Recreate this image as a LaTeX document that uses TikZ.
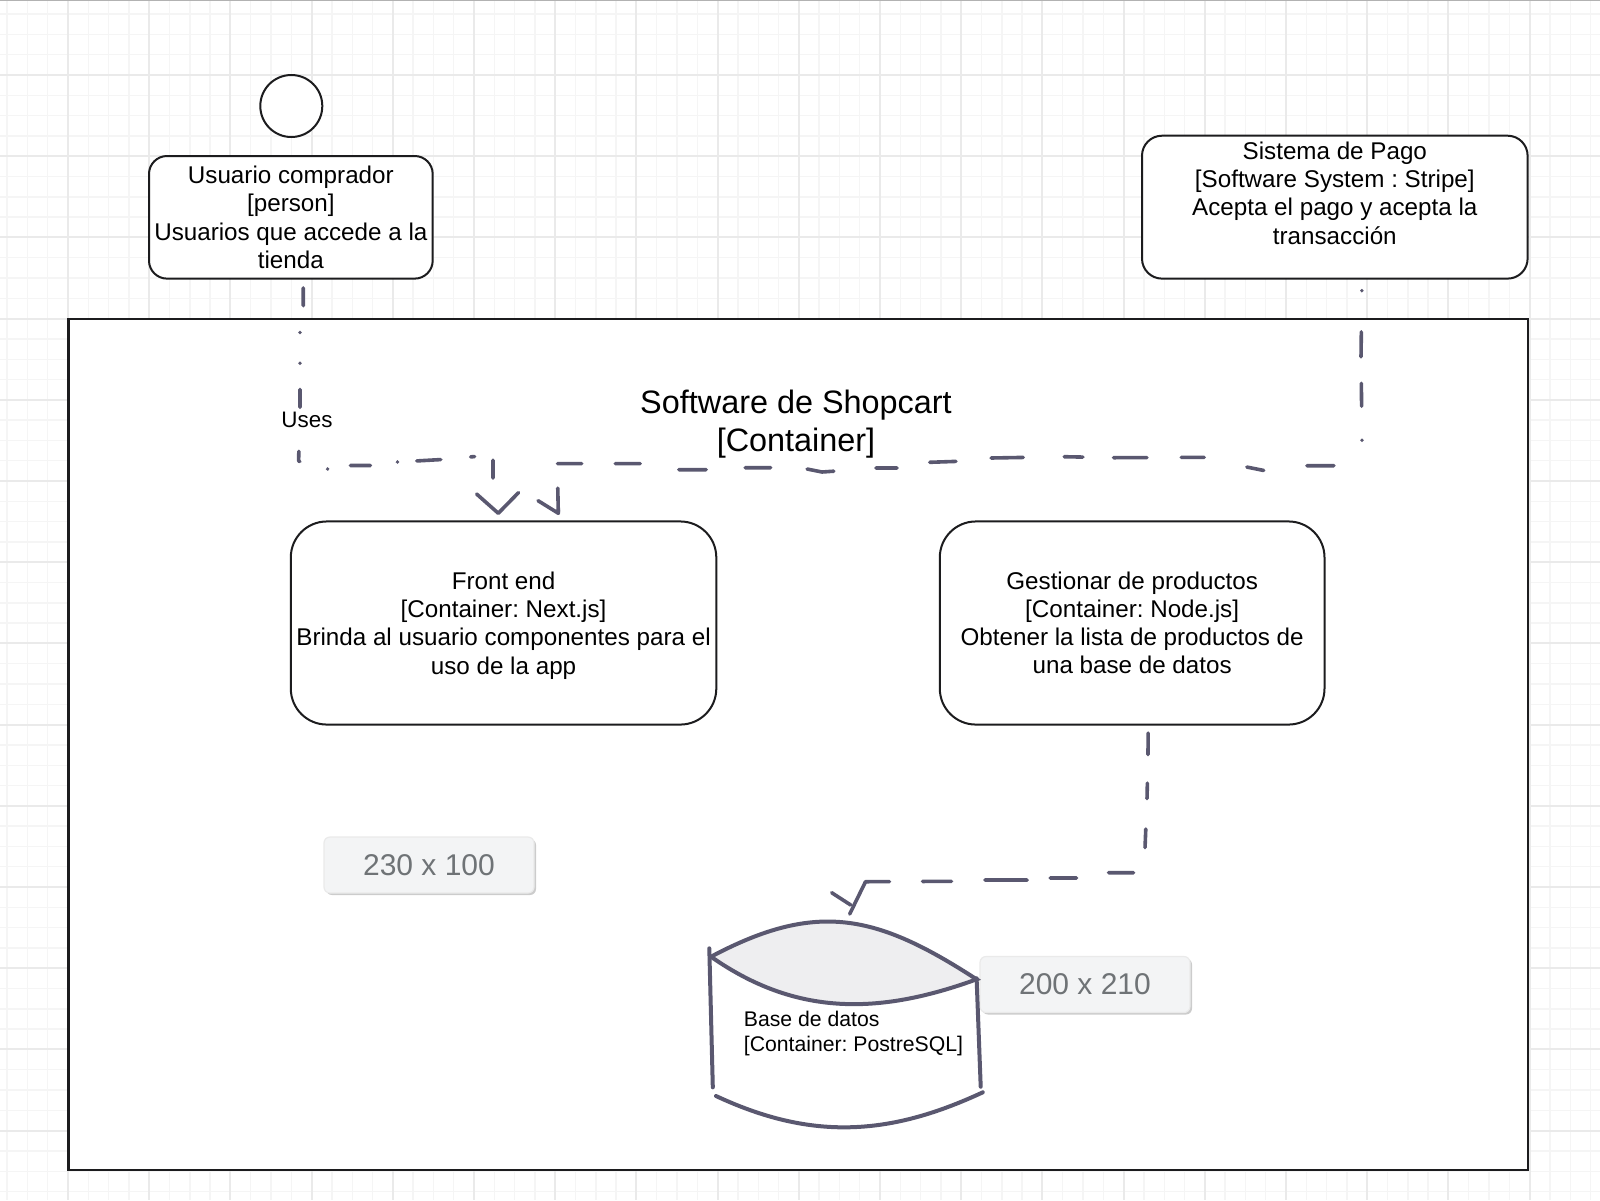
\documentclass[tikz,border=0pt]{standalone}
\usepackage{fontspec}
\setmainfont{Liberation Sans}
\frenchspacing
\usetikzlibrary{arrows.meta,shadows}

\definecolor{flowink}{HTML}{5A5870}
\definecolor{boxink}{HTML}{1C1C1E}
\definecolor{gridmain}{HTML}{EAEAEA}
\definecolor{gridfine}{HTML}{F5F5F5}
\definecolor{capfill}{HTML}{EEEEF0}
\definecolor{badgefill}{HTML}{F3F4F5}
\definecolor{badgeink}{HTML}{6F7376}

\tikzset{
  cardbox/.style={draw=boxink, line width=1pt, fill=white, inner sep=0pt, align=center, font=\fontsize{12.1}{14.1}\selectfont},
  sizebadge/.style={draw=gridmain, line width=.6pt, fill=badgefill, rounded corners=3pt, text=badgeink, inner sep=0pt, minimum width=105pt, minimum height=28pt, font=\fontsize{15}{18}\selectfont, drop shadow={shadow xshift=1pt, shadow yshift=-1pt, opacity=.2, fill=black}},
  flowline/.style={draw=flowink, line width=1.8pt, line cap=round, line join=round},
  dbline/.style={draw=flowink, line width=2pt, line cap=round},
}

\begin{document}
\begin{tikzpicture}[x=.5pt, y=-.5pt]

\useasboundingbox (0,0) rectangle (1600,1200) ;

\fill [white] (0,0) rectangle (1600,1200) ;
\foreach \k in {0,...,83} {
  \draw [gridfine, line width=.7pt] ({-13.2+20.3*\k},0) to ({-13.2+20.3*\k},1200) ;
}
\foreach \k in {0,...,62} {
  \draw [gridfine, line width=.7pt] (0,{-6.2+20.3*\k}) to (1600,{-6.2+20.3*\k}) ;
}
\foreach \k in {-1,...,19} {
  \draw [gridmain, line width=1pt] ({68+81.2*\k},0) to ({68+81.2*\k},1200) ;
}
\foreach \k in {-1,...,14} {
  \draw [gridmain, line width=1pt] (0,{75+81.2*\k}) to (1600,{75+81.2*\k}) ;
}
\draw [black!30, line width=.8pt] (0,0.5) to (1600,0.5) ;

\node [draw=boxink, line width=1.1pt, fill=white, inner sep=0pt, minimum width=729.6pt, minimum height=425.5pt] (sistema) at (798,744.3) {} ;
\node [draw=boxink, line width=1pt, fill=white, circle, inner sep=0pt, minimum size=31pt] (persona) at (291.3,106) {} ;

\node [cardbox, rounded corners=9pt, minimum width=141.85pt, minimum height=61.3pt] (usuario) at (290.85,217.3)
  {Usuario comprador\\{[person]}\\Usuarios que accede a la\\tienda} ;
\node [cardbox, rounded corners=10pt, minimum width=192.8pt, minimum height=71.45pt] (pago) at (1334.8,207.15)
  {Sistema de Pago\\{[Software System : Stripe]}\\Acepta el pago y acepta la\\transacción\\ \mbox{}} ;
\node [cardbox, text depth=0pt, rounded corners=18pt, minimum width=212.75pt, minimum height=101.55pt] (frontend) at (503.55,623)
  {Front end\\{[Container: Next.js]}\\Brinda al usuario componentes para el\\uso de la app} ;
\node [cardbox, rounded corners=18pt, minimum width=192.35pt, minimum height=101.55pt] (productos) at (1132.15,623)
  {Gestionar de productos\\{[Container: Node.js]}\\Obtener la lista de productos de\\una base de datos} ;

\node [align=center, font=\fontsize{16.2}{19}\selectfont] (titulo) at (796,424) {Software de Shopcart\\{[Container]}} ;
\node [font=\fontsize{11.2}{13}\selectfont] (uses) at (307,420) {Uses} ;

\node [sizebadge] (medidaA) at (429,865) {230 x 100} ;
\node [sizebadge] (medidaB) at (1085,984.5) {200 x 210} ;

\draw [dbline, fill=capfill] (711,956.7) to [out=28, in=147, looseness=1.15] (976.6,979.3) to [out=-160, in=-35] (711,956.7) ;
\draw [dbline] (709.3,948.3) to (712.8,1087.3) ;
\draw [dbline] (976.6,978.3) to (980.7,1086.7) ;
\draw [dbline] (716,1096) to [out=-25, in=-155] (982.8,1092.3) ;
\node [anchor=west, align=left, inner sep=0pt, font=\fontsize{10.6}{12.5}\selectfont] (basedatos) at (743.5,1033.5) {Base de datos\\{[Container: PostreSQL]}} ;
\coordinate (dbtop) at (849.7,914) ;

\draw [flowline, arrows={-{Straight Barb[round, length=10pt, width=21pt]}},
  dash pattern=on .1pt off 4.2pt on 8.85pt off 13.5pt on .1pt off 15.25pt on .1pt off 13pt on 9pt off 22pt on 5.5pt off 14.5pt on .1pt off 11.5pt on 10pt off 13.6pt on .1pt off 9.6pt on 12pt off 15pt on 2pt off 10.3pt on 9pt off 200pt, dash phase=.1pt]
  ([xshift=6.2pt]usuario.south) to (303.3,310) to (300,330) to (300,406) to (298.6,461) to (324.5,469.5) to (349,465.5) to (370,465.5) to (397.5,462) to (442,459.5) to (475,456.5) to (493,458) to (493,479) to (498,505) to ([xshift=-2.6pt, yshift=2.7pt]frontend.north) ;

\draw [flowline, arrows={-{Straight Barb[round, harpoon, swap, length=6.5pt, width=20pt]}},
  dash pattern=on .1pt off 5.5pt on .1pt off 20.55pt on 12.5pt off 13.2pt on 11.5pt off 16.9pt on .1pt off 26.75pt on 13.5pt off 21.8pt on 8.6pt off 21.9pt on 11.5pt off 17.15pt on 16.7pt off 15.35pt on 9.3pt off 20.5pt on 16.1pt off 17.65pt on 13.1pt off 16.6pt on 10.55pt off 21.15pt on 13.5pt off 18.25pt on 12.75pt off 19.5pt on 13.7pt off 19.6pt on 12.45pt off 16.75pt on 12.1pt off 12.25pt on 100pt off 100pt, dash phase=.1pt]
  ([xshift=13.6pt]pago.south) to (1361,357) to (1362,439) to (1362,465.7) to (1306.7,465.7) to (1266.4,471) to (1246.6,467) to (1207,457.3) to (1113.3,457.7) to (1064,456.7) to (990.8,458) to (958.7,461.3) to (929.5,462.3) to (899.8,468) to (875.7,468) to (836.5,471) to (822,472) to (807,469) to (773.5,467.7) to (745,467.7) to (709,469.7) to (678.6,469.7) to (642.9,463.6) to (557.5,463.6) to (557.7,485) to ([xshift=27.4pt, yshift=2.7pt]frontend.north) ;

\draw [flowline,
  dash pattern=on .1pt off 3.8pt on 10.7pt off 14.3pt on 7.7pt off 15.25pt on 9.25pt off 18.35pt on 12.5pt off 16.25pt on 13.15pt off 11.55pt on 21.1pt off 16.75pt on 14.5pt off 16.5pt on 100pt off 100pt, dash phase=.1pt]
  ([xshift=8pt]productos.south) to (1148,755) to (1147,799) to (1145,848) to (1145,872.7) to (1108,872.7) to (1079,878) to (1049.7,878) to (1029.7,880) to (984.5,880) to (954,881.3) to (865.5,881.7) to (dbtop) ;
\draw [flowline] (831.7,892.7) to (850.7,905) ;

\end{tikzpicture}
\end{document}
